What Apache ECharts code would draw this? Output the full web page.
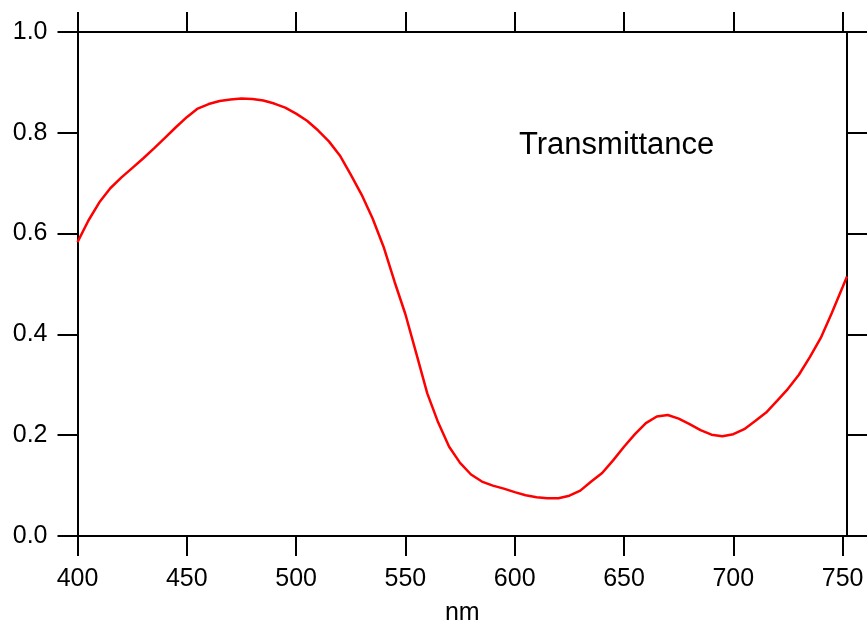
<!DOCTYPE html>
<html>
<head>
<meta charset="utf-8">
<script src="https://cdn.jsdelivr.net/npm/echarts@6/dist/echarts.min.js"></script>
<style>html,body{margin:0;padding:0;background:#fff;}#c{width:868px;height:623px;}</style>
</head>
<body>
<div id="c"></div>
<script>
var wavelengths = [400,405,410,415,420,425,430,435,440,445,450,455,460,465,470,475,480,485,490,495,500,505,510,515,520,525,530,535,540,545,550,555,560,565,570,575,580,585,590,595,600,605,610,615,620,625,630,635,640,645,650,655,660,665,670,675,680,685,690,695,700,705,710,715,720,725,730,735,740,745,750,752];
var transmittance = [0.583,0.626,0.662,0.690,0.711,0.730,0.749,0.769,0.790,0.811,0.831,0.848,0.857,0.863,0.866,0.868,0.867,0.864,0.858,0.850,0.838,0.824,0.805,0.783,0.755,0.717,0.677,0.630,0.574,0.505,0.440,0.362,0.283,0.225,0.177,0.145,0.122,0.108,0.100,0.094,0.087,0.081,0.077,0.075,0.075,0.080,0.090,0.108,0.125,0.150,0.177,0.202,0.224,0.237,0.240,0.233,0.222,0.210,0.201,0.198,0.202,0.212,0.228,0.245,0.268,0.292,0.320,0.355,0.393,0.442,0.494,0.515];
var xTicks = [400,450,500,550,600,650,700,750];
var yTicks = [0,0.2,0.4,0.6,0.8,1.0];
var seriesLabel = 'Transmittance';
var xName = 'nm';

var data = wavelengths.map(function(w,i){return [w, transmittance[i]];});
var font = 'Liberation Sans, Arial, sans-serif';
function axLine(){ return {show:true, onZero:false, lineStyle:{color:'#000', width:2}}; }
function tk(vals){ return {show:true, inside:false, length:20, customValues:vals, lineStyle:{color:'#000', width:2}}; }

var chart = echarts.init(document.getElementById('c'));
chart.setOption({
  animation:false,
  backgroundColor:'#fff',
  title:{text:seriesLabel, left:514, top:125, textStyle:{fontFamily:font, fontSize:31, fontWeight:'normal', color:'#000'}},
  grid:{left:77.5, right:21, top:32, bottom:87, containLabel:false, outerBoundsMode:'none'},
  xAxis:[{
    type:'value', position:'bottom', min:400, max:752,
    name:xName, nameLocation:'middle', nameGap:65,
    nameTextStyle:{fontFamily:font, fontSize:25, color:'#000'},
    axisLine:axLine(),
    axisTick:tk(xTicks),
    axisLabel:{customValues:xTicks, margin:31, fontFamily:font, fontSize:25, color:'#000'},
    splitLine:{show:false}
  },{
    type:'value', position:'top', min:400, max:752,
    axisLine:axLine(),
    axisTick:tk(xTicks),
    axisLabel:{show:false},
    splitLine:{show:false}
  }],
  yAxis:[{
    type:'value', position:'left', min:0, max:1, interval:0.2,
    axisLine:axLine(),
    axisTick:tk(yTicks),
    axisLabel:{customValues:yTicks, margin:30, fontFamily:font, fontSize:25, color:'#000', formatter:function(v){return v.toFixed(1);}},
    splitLine:{show:false}
  },{
    type:'value', position:'right', min:0, max:1, interval:0.2,
    axisLine:axLine(),
    axisTick:tk(yTicks),
    axisLabel:{show:false},
    splitLine:{show:false}
  }],
  series:[{
    type:'line', xAxisIndex:0, yAxisIndex:0, data:data,
    symbol:'none', smooth:false,
    lineStyle:{color:'#ff0000', width:2.5}
  }]
});
</script>
</body>
</html>
